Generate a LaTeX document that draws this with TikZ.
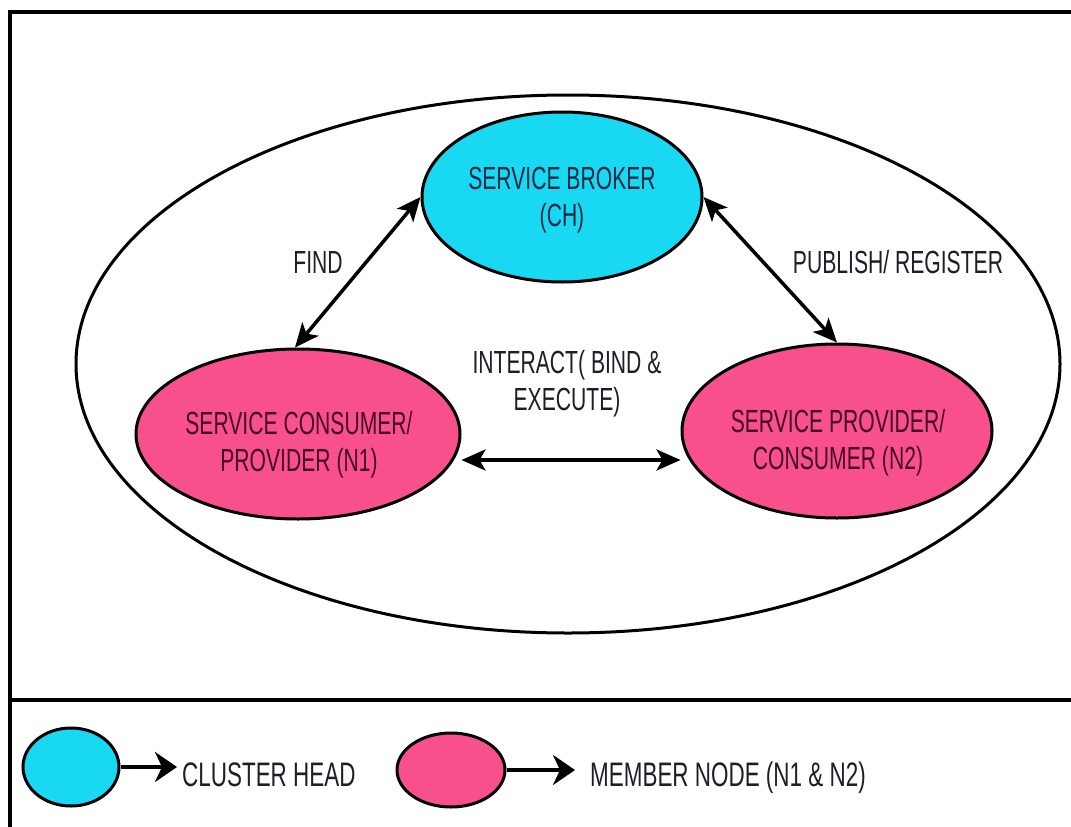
\documentclass[tikz,border=0pt]{standalone}
\usepackage{fontspec}
\setmainfont{Liberation Sans}
\newfontfamily\labelfont[FakeStretch=0.66]{Liberation Sans}
\usetikzlibrary{arrows.meta,shapes.geometric}

\definecolor{headcyan}{RGB}{24,216,242}
\definecolor{memberpink}{RGB}{247,80,140}
\definecolor{txtplain}{RGB}{30,30,40}
\definecolor{txtch}{RGB}{25,40,70}
\definecolor{txtmem}{RGB}{70,12,36}

\begin{document}
\begin{tikzpicture}[x=1pt,y=-1pt,
  ell/.style={ellipse, draw=black, line width=3pt, inner sep=0pt},
  chnode/.style={ell, fill=headcyan},
  memnode/.style={ell, fill=memberpink},
  lbl/.style={font=\labelfont\fontsize{32}{37}\selectfont, text=txtplain,
    align=center, inner sep=0pt},
  keylbl/.style={font=\labelfont\fontsize{34}{40}\selectfont, text=txtplain,
    inner sep=0pt, anchor=base west},
  dbl/.style={line width=3.5pt,
    {Stealth[length=24pt,width=21pt,inset=6pt]}-{Stealth[length=24pt,width=21pt,inset=6pt]}},
  single/.style={line width=3.5pt, -{Stealth[length=22pt,width=30pt,inset=7pt]}},
]
\useasboundingbox (0,0) rectangle (1071,827);
\fill[white] (0,0) rectangle (1071,827);

% frame and legend separator
\draw[line width=3.5pt, line join=miter] (10,827) -- (10,12) -- (1071,12);
\draw[line width=4pt] (10,700) -- (1071,700);

% cluster boundary
\node[ellipse, draw=black, line width=3pt, minimum width=984pt,
  minimum height=538pt, inner sep=0pt] (cluster) at (568,364) {};

% cluster head and members
\node[chnode, minimum width=280pt, minimum height=170pt] (broker) at (562,197) {};
\node[lbl, text=txtch] (brokertext) at (562,200) {SERVICE BROKER\\(CH)};

\node[memnode, minimum width=324pt, minimum height=170pt] (n1) at (298,434) {};
\node[lbl, text=txtmem] (n1text) at (299,445) {SERVICE CONSUMER/\\PROVIDER (N1)};

\node[memnode, minimum width=310pt, minimum height=174pt] (n2) at (837,431) {};
\node[lbl, text=txtmem] (n2text) at (838,443) {SERVICE PROVIDER/\\CONSUMER (N2)};

% interactions
\draw[dbl] (n1.92) -- (broker.west);
\draw[dbl] (broker.east) -- (n2.north);
\coordinate (ibar) at (0,460);
\draw[dbl] (n1.east |- ibar) -- (n2.west |- ibar);

\node[lbl] (find) at (318,262) {FIND};
\node[lbl] (publish) at (898,262) {PUBLISH/ REGISTER};
\node[lbl] (interact) at (567,384) {INTERACT( BIND \&\\EXECUTE)};

% legend
\node[chnode, minimum width=96pt, minimum height=78pt] (keych) at (71,767) {};
\node[keylbl] (keychtext) at (182,786) {CLUSTER HEAD};
\draw[single, shorten >=5pt] (keych.east) -- (keych.east -| keychtext.west);

\node[memnode, minimum width=108pt, minimum height=74pt] (keymem) at (451,770) {};
\node[keylbl] (keymemtext) at (590,786) {MEMBER NODE (N1 \& N2)};
\draw[single, shorten >=15pt] (keymem.east) -- (keymem.east -| keymemtext.west);
\end{tikzpicture}
\end{document}
